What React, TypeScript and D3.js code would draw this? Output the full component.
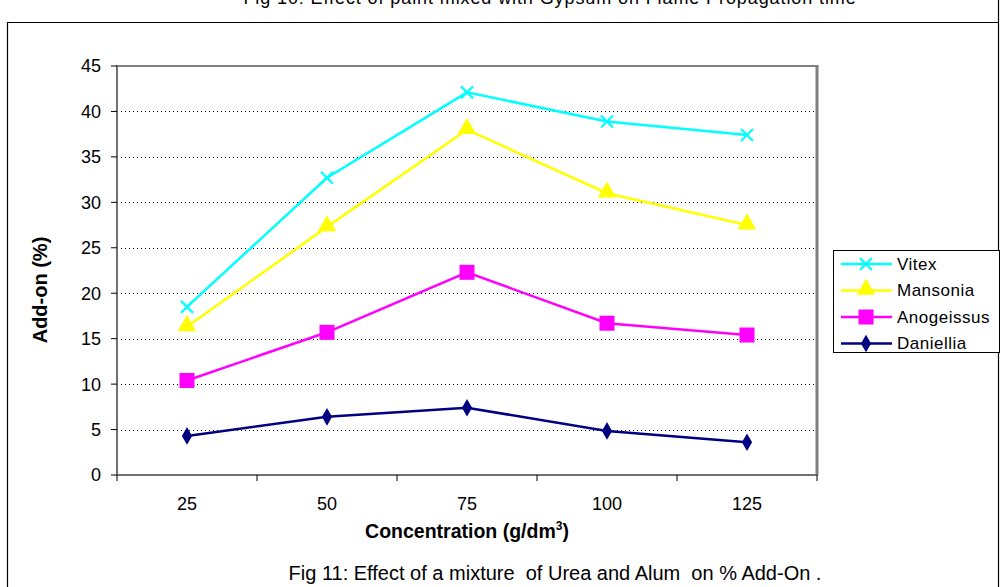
import React from "react";
import * as d3 from "d3";

const categories = ["25", "50", "75", "100", "125"];
const vitex = [18.5, 32.7, 42.1, 38.9, 37.4];
const mansonia = [16.3, 27.3, 38.0, 31.0, 27.5];
const anogeissus = [10.4, 15.7, 22.3, 16.7, 15.4];
const daniellia = [4.3, 6.4, 7.4, 4.85, 3.6];
const yTicks = [0, 5, 10, 15, 20, 25, 30, 35, 40, 45];
const seriesNames = ["Vitex", "Mansonia", "Anogeissus", "Daniellia"];

const W = 1002;
const H = 587;
const FONT = "'Liberation Sans', Arial, sans-serif";

const left = 117;
const right = 817;
const top = 66;
const bottom = 475;

const seriesDefs = [
  { name: seriesNames[0], values: vitex, color: "#00FFFF", marker: "x" },
  { name: seriesNames[1], values: mansonia, color: "#FFFF00", marker: "tri" },
  { name: seriesNames[2], values: anogeissus, color: "#FF00FF", marker: "sq" },
  { name: seriesNames[3], values: daniellia, color: "#000080", marker: "dia" },
];

function Marker({ type, x, y, color }: { type: string; x: number; y: number; color: string }) {
  if (type === "x") {
    const s = 6;
    return (
      <g stroke={color} strokeWidth={2.2}>
        <line x1={x - s} y1={y - s} x2={x + s} y2={y + s} />
        <line x1={x - s} y1={y + s} x2={x + s} y2={y - s} />
      </g>
    );
  }
  if (type === "tri") {
    const p = d3.symbol(d3.symbolTriangle, 150)();
    return <path d={p || ""} transform={`translate(${x},${y - 1})`} fill={color} />;
  }
  if (type === "sq") {
    return <rect x={x - 7.5} y={y - 7.5} width={15} height={15} fill={color} />;
  }
  const p = d3.symbol(d3.symbolDiamond, 90)();
  return <path d={p || ""} transform={`translate(${x},${y})`} fill={color} />;
}

export default function App() {
  const x = d3.scaleBand<string>().domain(categories).range([left, right]).paddingInner(0).paddingOuter(0);
  const y = d3.scaleLinear().domain([0, 45]).range([bottom, top]);
  const cx = (c: string) => (x(c) as number) + x.bandwidth() / 2;
  const line = d3
    .line<number>()
    .x((_, i) => cx(categories[i]))
    .y((d) => y(d));

  const bandEdges = [...categories.map((c) => x(c) as number), right];

  return (
    <svg width={W} height={H} style={{ position: "absolute", left: 0, top: 0, background: "#fff" }} fontFamily={FONT}>
      <rect x={0} y={0} width={W} height={H} fill="#fff" />
      {/* Cropped caption at top */}
      <text x={550} y={4} textAnchor="middle" fontSize={18} letterSpacing={0.9} fill="#000">
        Fig 10: Effect of paint mixed with Gypsum on Flame Propagation time
      </text>
      {/* outer frame */}
      <line x1={7.5} y1={22} x2={7.5} y2={H} stroke="#000" strokeWidth={1.2} />
      <line x1={998.5} y1={0} x2={998.5} y2={H} stroke="#000" strokeWidth={1.2} />
      <line x1={7} y1={22.5} x2={999} y2={22.5} stroke="#000" strokeWidth={1.2} />

      {/* gridlines */}
      {yTicks
        .filter((t) => t > 0 && t < 45)
        .map((t) => (
          <line key={t} x1={left} x2={right} y1={Math.round(y(t)) + 0.5} y2={Math.round(y(t)) + 0.5} stroke="#000" strokeDasharray="1,3" strokeWidth={1} />
        ))}
      {/* plot border */}
      <line x1={left} x2={right + 1.5} y1={top} y2={top} stroke="#808080" strokeWidth={2} />
      <line x1={right} x2={right} y1={top} y2={bottom} stroke="#808080" strokeWidth={3} />
      <line x1={left} x2={left} y1={top - 1} y2={bottom} stroke="#707070" strokeWidth={2} />
      <line x1={left - 1} x2={right + 1} y1={bottom} y2={bottom} stroke="#707070" strokeWidth={2} />

      {/* y ticks */}
      {yTicks.map((t) => (
        <g key={t}>
          <line x1={left - 6} x2={left} y1={y(t)} y2={y(t)} stroke="#000" strokeWidth={1} />
          <text x={101} y={y(t)} dy="0.36em" textAnchor="end" fontSize={18} fill="#000">
            {t}
          </text>
        </g>
      ))}
      {/* x ticks */}
      {bandEdges.map((e, i) => (
        <line key={i} x1={e} x2={e} y1={bottom} y2={bottom + 6} stroke="#000" strokeWidth={1} />
      ))}
      {categories.map((c) => (
        <text key={c} x={cx(c)} y={510} textAnchor="middle" fontSize={18} fill="#000">
          {c}
        </text>
      ))}

      {/* axis titles */}
      <text transform="translate(47,290) rotate(-90)" textAnchor="middle" fontSize={20} fontWeight="bold" fill="#000">
        Add-on (%)
      </text>
      <text x={467} y={538} textAnchor="middle" fontSize={19.5} fontWeight="bold" fill="#000">
        Concentration (g/dm
        <tspan fontSize={12} dy={-8}>3</tspan>
        <tspan dy={8}>)</tspan>
      </text>

      {/* series */}
      {seriesDefs.map((s) => (
        <g key={s.name}>
          <path d={line(s.values) || ""} fill="none" stroke={s.color} strokeWidth={2.5} />
          {s.values.map((v, i) => (
            <Marker key={i} type={s.marker} x={cx(categories[i])} y={y(v)} color={s.color} />
          ))}
        </g>
      ))}

      {/* legend */}
      <rect x={833.5} y={250.5} width={166} height={102} fill="#fff" stroke="#000" strokeWidth={1} />
      {seriesDefs.map((s, i) => {
        const ly = 264 + i * 26.5;
        return (
          <g key={s.name}>
            <line x1={841} x2={892} y1={ly} y2={ly} stroke={s.color} strokeWidth={2.5} />
            <Marker type={s.marker} x={866} y={ly} color={s.color} />
            <text x={897} y={ly} dy="0.33em" fontSize={17} letterSpacing={0.5} fill="#000">
              {s.name}
            </text>
          </g>
        );
      })}

      {/* bottom caption */}
      <text x={555} y={580} textAnchor="middle" fontSize={20} fill="#000" style={{ whiteSpace: "pre" }}>
        {"Fig 11: Effect of a mixture  of Urea and Alum  on % Add-On ."}
      </text>
    </svg>
  );
}
